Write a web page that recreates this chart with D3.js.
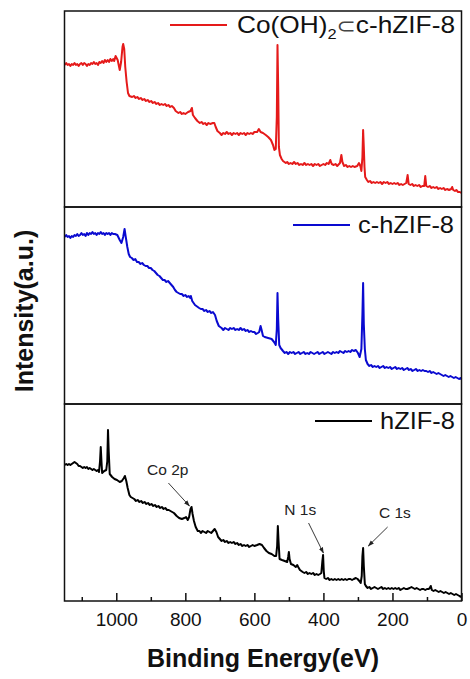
<!DOCTYPE html>
<html><head><meta charset="utf-8">
<script src="https://cdn.jsdelivr.net/npm/d3@7/dist/d3.min.js"></script>
<style>
body{margin:0;background:#fff;}
svg{display:block;font-family:"Liberation Sans",Arial,sans-serif;}
</style></head>
<body><svg id="c" width="470" height="679"></svg>
<script>
// ---- data (Binding energy eV, intensity a.u.) ----
const seriesNames = ["Co(OH)2⊂c-hZIF-8", "c-hZIF-8", "hZIF-8"];
const seriesColors = ["#e51a1a", "#0a0ad0", "#000000"];
const majorTicks = [1000, 800, 600, 400, 200, 0];
const minorTicks = [1100, 900, 700, 500, 300, 100];

const cohZIF = [[1149,142],[1145,144],[1141,142],[1137,143],[1133,141],[1129,143],[1125,142],[1121,144],[1117,142],[1113,143],[1109,141],[1105,143],[1101,144],[1097,142],[1093,144],[1089,143],[1085,141],[1081,143],[1077,142],[1073,144],[1069,143],[1065,145],[1061,143],[1057,144],[1053,142],[1049,145],[1045,144],[1041,146],[1037,144],[1033,147],[1029,145],[1025,147],[1021,145],[1017,148],[1013,146],[1009,148],[1006,146],[1002,151],[996,147],[990,137],[986,145],[982,160],[980,163],[977,158],[974,140],[970,125],[966,114],[962,111],[954,110],[949,111],[944,109],[939,110],[934,108],[929,109],[924,107],[919,108],[914,106],[909,107],[904,105],[899,106],[894,104],[889,105],[884,103],[879,104],[874,102],[869,103],[864,102],[859,103],[854,101],[849,102],[844,100],[839,101],[833,99],[828,96],[820,94],[815,95],[810,93],[805,94],[800,93],[792,95],[785,96],[781,99],[778,92],[772,89],[765,86],[758,84],[753,85],[748,83],[743,84],[738,82],[733,84],[728,83],[720,84],[716,84],[712,80],[707,76],[700,74],[695,72],[690,74],[685,73],[680,75],[675,73],[670,74],[665,72],[660,74],[655,73],[650,74],[645,72],[640,74],[635,73],[630,74],[625,72],[620,74],[615,73],[610,74],[605,73],[600,75],[592,75],[587,78],[582,75],[575,74],[567,72],[560,70],[552,67],[546,62],[542,57],[538,58],[535,90],[533,162],[531,120],[529,60],[526,52],[521,48],[517,46],[513,45],[509,44],[505,45],[500,43],[495,44],[490,43],[485,45],[480,43],[475,44],[470,42],[465,43],[460,42],[455,44],[450,42],[445,43],[440,42],[435,43],[430,41],[425,43],[420,42],[415,43],[410,41],[405,42],[400,43],[395,42],[390,44],[385,43],[380,47],[376,43],[370,42],[365,43],[360,41],[352,44],[348,52],[345,45],[340,41],[335,42],[330,40],[325,41],[320,40],[315,41],[310,40],[302,41],[297,44],[293,41],[290,36],[287,50],[285,77],[283,60],[281,40],[279,30],[274,27],[270,25],[265,26],[260,24],[255,25],[250,24],[245,25],[240,24],[235,25],[230,23],[225,25],[220,24],[215,25],[210,23],[205,24],[200,23],[195,24],[190,23],[185,24],[180,22],[175,23],[170,22],[165,23],[160,24],[156,32],[153,23],[148,22],[143,23],[138,21],[133,22],[128,21],[123,22],[118,20],[113,21],[108,21],[105,31],[102,21],[97,20],[92,21],[87,19],[82,20],[77,19],[72,20],[67,18],[62,19],[57,18],[52,19],[47,17],[42,18],[36,17],[30,18],[27,20],[24,17],[19,16],[15,17],[10,15],[5,15],[0,14]];

const chZIF = [[1149,167],[1145,169],[1141,167],[1137,168],[1133,166],[1129,168],[1125,167],[1121,169],[1117,168],[1113,170],[1109,168],[1105,169],[1101,171],[1097,169],[1093,170],[1089,168],[1085,171],[1081,169],[1077,171],[1073,170],[1069,172],[1065,170],[1061,171],[1057,169],[1053,171],[1049,170],[1045,172],[1041,170],[1037,171],[1033,169],[1029,171],[1025,170],[1021,171],[1017,169],[1013,171],[1009,170],[1004,170],[997,169],[990,164],[985,161],[980,167],[976,175],[973,168],[968,157],[964,150],[960,147],[955,146],[950,144],[945,145],[940,142],[935,142],[930,140],[925,141],[920,139],[915,138],[910,138],[905,136],[900,136],[895,134],[890,133],[885,131],[880,129],[875,128],[870,126],[865,124],[860,124],[855,122],[850,123],[845,121],[840,119],[835,117],[830,114],[825,112],[820,111],[815,110],[810,110],[805,108],[800,109],[795,107],[790,108],[786,106],[784,108],[780,103],[776,101],[772,99],[768,98],[764,97],[760,96],[755,95],[750,95],[745,93],[740,94],[735,92],[730,93],[725,91],[720,92],[716,90],[714,89],[709,83],[703,78],[695,76],[690,74],[685,76],[680,75],[675,74],[670,76],[665,75],[660,76],[655,74],[650,75],[645,74],[640,76],[635,74],[630,75],[625,73],[620,74],[615,72],[610,73],[605,72],[600,72],[595,70],[590,71],[586,72],[582,78],[579,74],[575,68],[570,67],[560,66],[550,65],[543,62],[538,59],[535,75],[533,111],[531,85],[528,59],[524,56],[517,53],[512,51],[507,52],[502,50],[497,52],[492,51],[487,52],[482,50],[477,51],[472,52],[467,50],[462,51],[457,52],[452,50],[447,51],[442,50],[437,52],[432,51],[427,50],[422,51],[417,52],[412,50],[407,51],[402,52],[397,50],[392,51],[387,52],[382,51],[377,50],[372,52],[367,51],[362,52],[357,51],[352,53],[347,52],[342,51],[337,53],[332,52],[327,53],[322,52],[317,54],[312,53],[306,54],[300,51],[295,47],[290,55],[287,90],[285,121],[283,80],[280,55],[277,44],[272,40],[267,38],[262,39],[257,37],[252,38],[247,37],[242,38],[237,36],[232,37],[227,38],[222,36],[217,37],[212,36],[207,37],[202,35],[197,36],[192,37],[187,35],[182,36],[177,35],[172,36],[167,34],[162,35],[157,36],[152,34],[147,35],[142,33],[137,34],[132,35],[127,33],[122,34],[117,33],[112,34],[107,33],[102,33],[97,32],[92,33],[87,31],[82,32],[77,31],[72,30],[67,31],[62,30],[57,29],[52,28],[47,29],[42,28],[37,27],[32,28],[27,27],[22,26],[17,27],[12,26],[7,25],[3,26],[0,25]];

const hZIF = [[1149,136],[1145,137],[1141,136],[1137,137],[1133,136],[1129,137],[1125,138],[1121,139],[1117,138],[1113,137],[1109,135],[1105,135],[1101,134],[1097,133],[1093,134],[1089,133],[1085,134],[1081,132],[1077,133],[1073,132],[1069,131],[1065,132],[1061,131],[1057,130],[1053,131],[1050,129],[1047,140],[1045,154],[1043,140],[1041,128],[1035,130],[1029,131],[1026,140],[1024,171],[1022,150],[1019,127],[1012,124],[1005,122],[998,121],[990,119],[984,120],[978,123],[975,125],[971,120],[967,113],[962,106],[958,104],[953,103],[948,102],[943,100],[938,101],[933,99],[928,100],[923,98],[918,99],[913,97],[908,98],[903,96],[898,97],[893,95],[888,96],[883,94],[878,95],[873,93],[868,94],[863,92],[858,93],[853,91],[848,91],[843,90],[838,89],[833,88],[825,85],[818,83],[810,82],[803,83],[798,84],[793,81],[789,84],[785,92],[782,94],[779,87],[775,80],[770,74],[764,70],[759,70],[755,68],[750,70],[745,69],[740,68],[735,70],[730,69],[725,68],[720,70],[715,72],[710,69],[705,64],[700,62],[695,60],[690,61],[685,59],[680,60],[675,58],[670,59],[665,58],[660,59],[655,57],[650,58],[645,56],[640,57],[635,55],[630,56],[625,55],[620,56],[615,54],[610,55],[605,56],[600,55],[592,56],[585,57],[578,56],[572,53],[565,50],[558,48],[550,47],[542,45],[537,45],[534,55],[532,75],[530,60],[527,42],[520,41],[512,40],[505,39],[502,44],[500,49],[498,42],[494,37],[487,36],[480,34],[476,36],[473,34],[468,31],[460,29],[455,28],[450,29],[445,27],[440,28],[435,27],[430,28],[425,26],[420,27],[415,26],[410,27],[406,28],[403,40],[401,46],[399,30],[397,23],[392,22],[387,23],[382,21],[377,22],[372,21],[367,22],[362,21],[357,22],[352,21],[347,22],[342,21],[337,22],[332,21],[327,22],[322,22],[317,21],[312,22],[306,23],[301,22],[296,20],[292,18],[289,25],[287,45],[285,53],[283,35],[280,17],[277,15],[272,13],[267,14],[262,12],[257,13],[252,14],[247,13],[242,12],[237,13],[232,14],[227,12],[222,13],[217,12],[212,13],[207,12],[202,13],[197,12],[192,13],[187,12],[182,13],[177,11],[172,12],[167,13],[162,12],[157,12],[150,13],[145,14],[140,13],[135,12],[130,13],[125,12],[120,11],[115,12],[110,12],[105,11],[100,12],[95,12],[92,13],[89,15],[86,11],[81,10],[76,11],[71,10],[66,9],[61,10],[56,9],[51,8],[46,9],[41,8],[36,7],[31,8],[26,7],[21,6],[16,7],[11,6],[6,5],[0,4]];

const seriesData = [cohZIF, chZIF, hZIF];

// annotations on bottom panel: label position and arrow (from -> to), in data units
const annLabels = ["Co 2p", "N 1s", "C 1s"];
const annText = [[851,126],[467,86],[193,83]];
const annFrom = [[849,118],[443,78],[214,74]];
const annTo = [[788,95],[400,48],[270,55]];

// ---- layout ----
const svg = d3.select("#c");
const L = 64.5, R = 461.5;
const panelTop = [11, 207, 404];
const panelBot = [207, 404, 601];
const x = d3.scaleLinear().domain([1150, 0]).range([L, R]);

svg.append("defs").append("marker")
  .attr("id","ah").attr("viewBox","0 0 10 10").attr("refX",9).attr("refY",5)
  .attr("markerWidth",7).attr("markerHeight",7).attr("orient","auto")
  .append("path").attr("d","M0,1.5 L10,5 L0,8.5 Z").attr("fill","#222");

const ys = [];
seriesData.forEach((data, i) => {
  const y = d3.scaleLinear().domain([0, 196]).range([panelBot[i], panelBot[i] - 196]);
  ys.push(y);
  const line = d3.line().x(d => x(d[0])).y(d => y(d[1]));
  svg.append("path").datum(data).attr("d", line)
    .attr("fill","none").attr("stroke", seriesColors[i])
    .attr("stroke-width",2).attr("stroke-linejoin","round");
  svg.append("rect").attr("x", L).attr("y", panelTop[i])
    .attr("width", R - L).attr("height", panelBot[i] - panelTop[i])
    .attr("fill","none").attr("stroke","#111").attr("stroke-width",1.5);
});

// legends
const legY = [25, 225, 421];
const legLineX = [[170,227],[293,350],[315,372]];
const legTextX = [237, 358, 380];
const legTextW = [218, 96, 75];
seriesNames.forEach((n, i) => {
  svg.append("line").attr("x1", legLineX[i][0]).attr("x2", legLineX[i][1])
    .attr("y1", legY[i]).attr("y2", legY[i])
    .attr("stroke", seriesColors[i]).attr("stroke-width", 2);
  const t = svg.append("text").attr("x", legTextX[i]).attr("y", legY[i] + 8)
    .attr("font-size", 24).attr("fill","#111")
    .attr("textLength", legTextW[i]).attr("lengthAdjust","spacingAndGlyphs");
  if (i === 0) {
    t.append("tspan").text("Co(OH)");
    t.append("tspan").text("2").attr("font-size", 15).attr("dy", 6);
    t.append("tspan").text("⊂").attr("font-size", 21).attr("dy", -6).attr("fill","#444").attr("font-family","DejaVu Sans");
    t.append("tspan").text("c-hZIF-8");
  } else {
    t.text(n);
  }
});

// bottom axis
const axMajor = d3.axisBottom(x).tickValues(majorTicks).tickSizeInner(-8).tickSizeOuter(0).tickPadding(12)
  .tickFormat(d3.format("d"));
const gA = svg.append("g").attr("transform", `translate(0,${panelBot[2]})`).call(axMajor);
gA.select(".domain").remove();
gA.selectAll("line").attr("stroke","#111").attr("stroke-width",1.5);
gA.selectAll("text").attr("font-size",19).attr("fill","#111").attr("font-family","'Liberation Sans',Arial,sans-serif");
const axMinor = d3.axisBottom(x).tickValues(minorTicks).tickSizeInner(-4).tickSizeOuter(0).tickFormat("");
const gM = svg.append("g").attr("transform", `translate(0,${panelBot[2]})`).call(axMinor);
gM.select(".domain").remove();
gM.selectAll("line").attr("stroke","#111").attr("stroke-width",1.5);

// annotations
const yb = ys[2];
annLabels.forEach((s, i) => {
  svg.append("text").attr("x", x(annText[i][0])).attr("y", yb(annText[i][1]))
    .attr("text-anchor","middle").attr("font-size",15.5).attr("fill","#222").text(s);
  svg.append("line").attr("x1", x(annFrom[i][0])).attr("y1", yb(annFrom[i][1]))
    .attr("x2", x(annTo[i][0])).attr("y2", yb(annTo[i][1]))
    .attr("stroke","#222").attr("stroke-width",0.9).attr("marker-end","url(#ah)");
});

// axis titles
svg.append("text").attr("x", (L + R) / 2).attr("y", 667).attr("text-anchor","middle")
  .attr("font-size",25).attr("font-weight","bold").attr("fill","#111").text("Binding Energy(eV)");
svg.append("text").attr("transform","translate(33,311) rotate(-90)").attr("text-anchor","middle")
  .attr("font-size",25).attr("font-weight","bold").attr("fill","#111").text("Intensity(a.u.)");
</script></body></html>
